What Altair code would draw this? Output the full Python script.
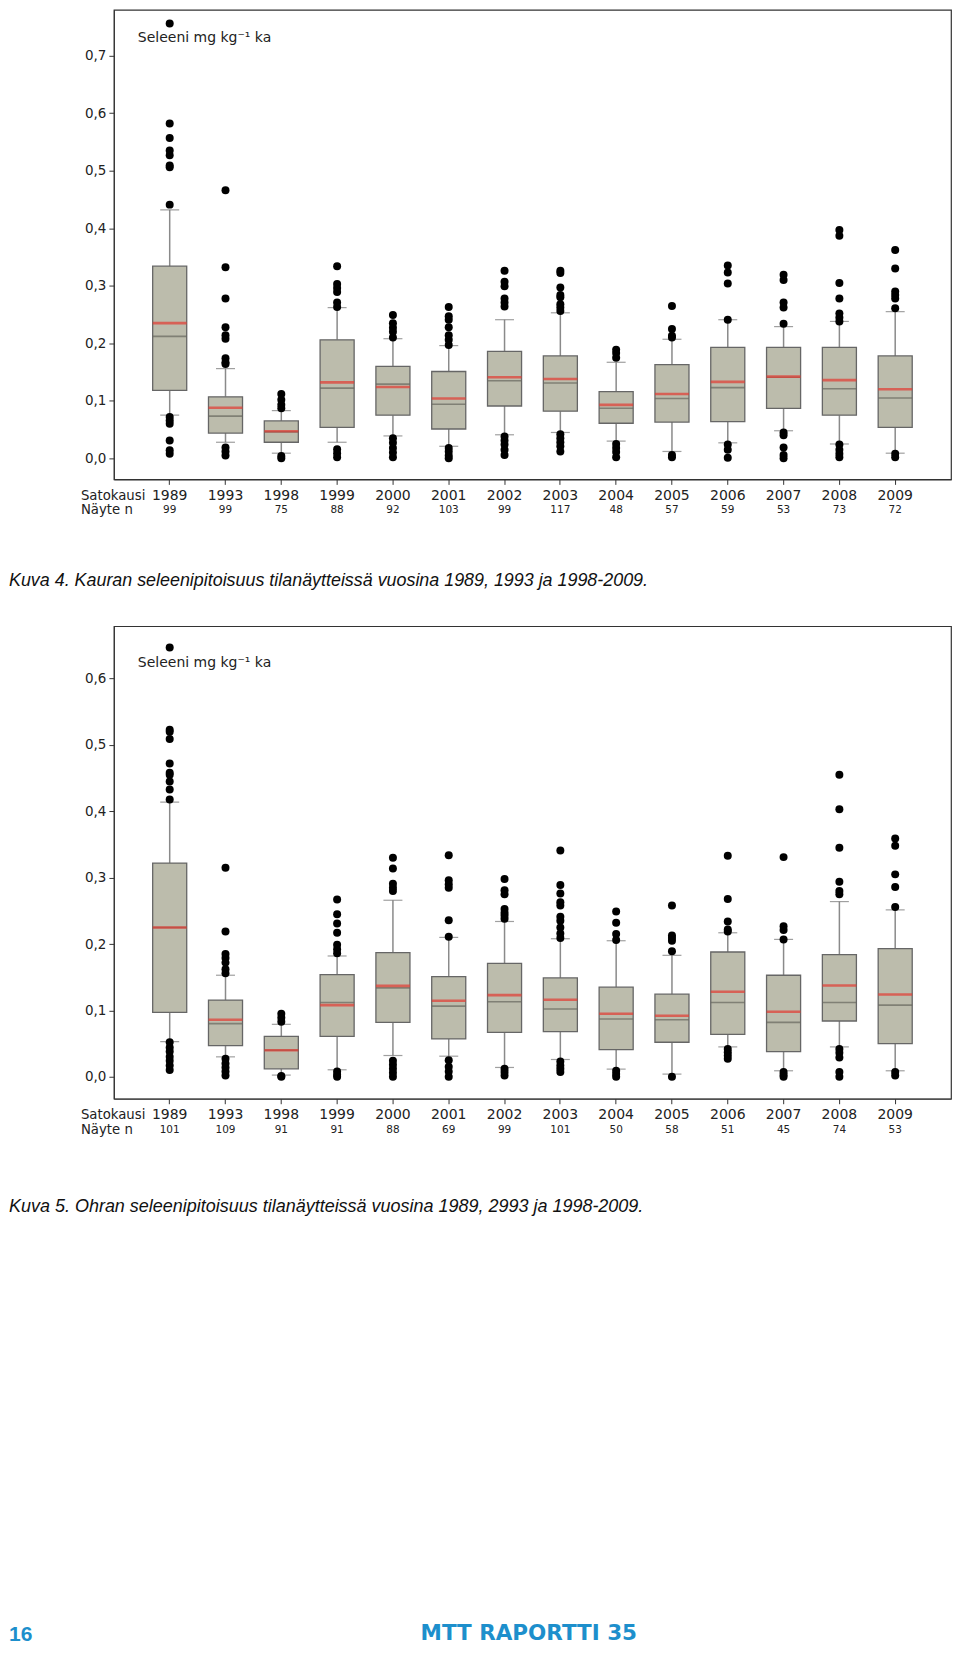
import altair as alt
import pandas as pd

years = ["1989", "1993", "1998", "1999", "2000", "2001", "2002", "2003",
         "2004", "2005", "2006", "2007", "2008", "2009"]

# ---- Kaura (oats), Kuva 4 ----
k_n = [99, 99, 75, 88, 92, 103, 99, 117, 48, 57, 59, 53, 73, 72]
k_q1 = [0.118, 0.044, 0.028, 0.054, 0.075, 0.051, 0.091, 0.082, 0.061, 0.063, 0.064, 0.087, 0.075, 0.054]
k_med = [0.212, 0.0735, 0.046, 0.122, 0.129, 0.094, 0.135, 0.131, 0.087, 0.104, 0.123, 0.141, 0.121, 0.105]
k_q3 = [0.334, 0.107, 0.065, 0.206, 0.160, 0.151, 0.186, 0.178, 0.116, 0.163, 0.193, 0.193, 0.193, 0.178]
k_mean = [0.235, 0.088, 0.047, 0.132, 0.124, 0.104, 0.141, 0.138, 0.093, 0.112, 0.133, 0.142, 0.136, 0.120]
k_wlo = [0.075, 0.028, 0.009, 0.028, 0.039, 0.021, 0.041, 0.045, 0.030, 0.012, 0.027, 0.048, 0.025, 0.009]
k_whi = [0.432, 0.156, 0.083, 0.262, 0.208, 0.196, 0.241, 0.253, 0.167, 0.207, 0.241, 0.229, 0.238, 0.255]
k_out = [
    [0.756, 0.582, 0.557, 0.535, 0.527, 0.509, 0.506, 0.441, 0.072, 0.066, 0.060, 0.031, 0.014, 0.008],
    [0.466, 0.332, 0.278, 0.228, 0.214, 0.208, 0.174, 0.167, 0.164, 0.019, 0.012, 0.005],
    [0.112, 0.102, 0.093, 0.087, 0.004, 0.0],
    [0.334, 0.303, 0.296, 0.289, 0.271, 0.263, 0.016, 0.009, 0.002],
    [0.249, 0.235, 0.227, 0.220, 0.210, 0.035, 0.027, 0.018, 0.010, 0.002],
    [0.263, 0.247, 0.241, 0.228, 0.214, 0.206, 0.197, 0.018, 0.012, 0.005, 0.0],
    [0.326, 0.307, 0.299, 0.278, 0.271, 0.264, 0.038, 0.031, 0.024, 0.015, 0.006],
    [0.326, 0.322, 0.297, 0.284, 0.280, 0.268, 0.262, 0.256, 0.042, 0.035, 0.028, 0.021, 0.012],
    [0.189, 0.183, 0.175, 0.025, 0.018, 0.011, 0.002],
    [0.265, 0.225, 0.213, 0.210, 0.006, 0.002],
    [0.335, 0.323, 0.304, 0.241, 0.024, 0.015, 0.001],
    [0.319, 0.310, 0.271, 0.262, 0.234, 0.045, 0.040, 0.019, 0.006, 0.0],
    [0.397, 0.387, 0.305, 0.278, 0.252, 0.245, 0.238, 0.024, 0.015, 0.008, 0.002],
    [0.362, 0.330, 0.290, 0.284, 0.278, 0.261, 0.008, 0.002],
]

# ---- Ohra (barley), Kuva 5 ----
o_n = [101, 109, 91, 91, 88, 69, 99, 101, 50, 58, 51, 45, 74, 53]
o_q1 = [0.097, 0.047, 0.012, 0.061, 0.082, 0.057, 0.067, 0.068, 0.041, 0.052, 0.064, 0.038, 0.084, 0.050]
o_med = [0.225, 0.080, 0.040, 0.112, 0.134, 0.1065, 0.113, 0.102, 0.087, 0.086, 0.112, 0.082, 0.112, 0.108]
o_q3 = [0.322, 0.1155, 0.061, 0.154, 0.187, 0.151, 0.171, 0.149, 0.135, 0.1245, 0.188, 0.153, 0.184, 0.193]
o_mean = [0.225, 0.086, 0.040, 0.108, 0.137, 0.1145, 0.123, 0.116, 0.095, 0.092, 0.128, 0.098, 0.1375, 0.124]
o_wlo = [0.053, 0.030, 0.0025, 0.0105, 0.032, 0.031, 0.014, 0.026, 0.0115, 0.004, 0.045, 0.009, 0.045, 0.009]
o_whi = [0.414, 0.153, 0.079, 0.182, 0.266, 0.210, 0.234, 0.208, 0.205, 0.183, 0.217, 0.207, 0.264, 0.2515]
o_out = [
    [0.647, 0.523, 0.520, 0.509, 0.472, 0.458, 0.455, 0.445, 0.433, 0.418, 0.052, 0.044, 0.038, 0.030, 0.024, 0.017, 0.010],
    [0.315, 0.219, 0.185, 0.179, 0.172, 0.162, 0.156, 0.027, 0.020, 0.014, 0.008, 0.002],
    [0.095, 0.089, 0.083, 0.001, 0.0],
    [0.267, 0.245, 0.231, 0.217, 0.199, 0.192, 0.186, 0.008, 0.003, 0.0],
    [0.330, 0.314, 0.291, 0.285, 0.280, 0.024, 0.018, 0.012, 0.006, 0.0],
    [0.334, 0.296, 0.290, 0.285, 0.236, 0.211, 0.025, 0.015, 0.008, 0.0],
    [0.298, 0.281, 0.275, 0.253, 0.247, 0.243, 0.238, 0.012, 0.007, 0.002],
    [0.341, 0.289, 0.276, 0.263, 0.258, 0.241, 0.235, 0.225, 0.216, 0.209, 0.023, 0.017, 0.012, 0.007],
    [0.249, 0.232, 0.215, 0.206, 0.009, 0.004, 0.0],
    [0.258, 0.213, 0.209, 0.205, 0.189, 0.0],
    [0.333, 0.268, 0.234, 0.222, 0.219, 0.042, 0.037, 0.032, 0.027],
    [0.331, 0.227, 0.221, 0.207, 0.007, 0.003, 0.0],
    [0.455, 0.403, 0.345, 0.294, 0.280, 0.275, 0.042, 0.036, 0.029, 0.007, 0.0],
    [0.359, 0.348, 0.305, 0.286, 0.256, 0.007, 0.002],
]

y_label = "Seleeni mg kg\u207b\u00b9 ka"
caption4 = "Kuva 4. Kauran seleenipitoisuus tilanäytteissä vuosina 1989, 1993 ja 1998-2009."
caption5 = "Kuva 5. Ohran seleenipitoisuus tilanäytteissä vuosina 1989, 2993 ja 1998-2009."
footer_page = "16"
footer_title = "MTT RAPORTTI 35"

FONT = "DejaVu Sans"
CAP_FONT = "Liberation Sans"
BOX_FILL = "#bcbcac"
BOX_STROKE = "#666666"
WHISK = "#8a8a8a"
RED = "#e23b32"
BLUE = "#1d8fcc"
W = 838
LEFT = -105


def note(text, x, y, size=14, font=FONT, style="normal", weight="normal", color="#222",
         baseline="middle"):
    return alt.Chart(pd.DataFrame({"t": [text]})).mark_text(
        align="left", baseline=baseline, font=font, fontSize=size,
        fontStyle=style, fontWeight=weight, color=color
    ).encode(x=alt.value(x), y=alt.value(y), text="t:N")


def panel(n, q1, med, q3, mean, wlo, whi, out, domain, height, ticks, extras):
    stats = pd.DataFrame({"year": years, "n": [str(v) for v in n], "q1": q1, "med": med,
                          "q3": q3, "mean": mean, "wlo": wlo, "whi": whi})
    outdf = pd.DataFrame([(y, v) for y, vals in zip(years, out) for v in vals],
                         columns=["year", "value"])
    xenc = alt.X("year:N", sort=years,
                 scale=alt.Scale(type="band", paddingInner=0, paddingOuter=0.5),
                 axis=alt.Axis(title=None, labelAngle=0, labelFont=FONT, labelFontSize=14,
                               labelColor="#222", tickSize=5, labelPadding=4,
                               domainColor="#333", tickColor="#333", grid=False))
    yscale = alt.Scale(domain=domain, nice=False, zero=False)
    yaxis = alt.Axis(title=None, values=ticks, grid=False, tickSize=5, labelPadding=3,
                     labelFont=FONT, labelFontSize=13.5, labelColor="#222",
                     domainColor="#333", tickColor="#333",
                     labelExpr="replace(format(datum.value, '.1f'), '.', ',')")

    def Y(f):
        return alt.Y(f, scale=yscale, axis=yaxis)

    base = alt.Chart(stats)
    layers = [
        base.mark_rule(color=WHISK, strokeWidth=1.5).encode(x=xenc, y=Y("wlo:Q"), y2="q1:Q"),
        base.mark_rule(color=WHISK, strokeWidth=1.5).encode(x=xenc, y=Y("q3:Q"), y2="whi:Q"),
        base.mark_tick(size=19, thickness=1.2, color="#777").encode(x=xenc, y=Y("wlo:Q")),
        base.mark_tick(size=19, thickness=1.2, color="#777").encode(x=xenc, y=Y("whi:Q")),
        base.mark_bar(width=alt.RelativeBandSize(0.61), fill=BOX_FILL, stroke=BOX_STROKE,
                      strokeWidth=1.3).encode(x=xenc, y=Y("q1:Q"), y2="q3:Q"),
        base.mark_tick(size=34, thickness=1.6, color="#66665e").encode(x=xenc, y=Y("med:Q")),
        base.mark_tick(size=34, thickness=2.6, color=RED).encode(x=xenc, y=Y("mean:Q")),
        alt.Chart(outdf).mark_point(filled=True, shape="circle", size=64, color="black",
                                    opacity=1, strokeWidth=0).encode(x=xenc, y=Y("value:Q")),
        base.mark_text(font=FONT, fontSize=10.5, color="#222", baseline="middle").encode(
            x=xenc, y=alt.value(height + 31), text="n:N"),
    ]
    return alt.layer(*layers, *extras).properties(width=W, height=height)


top = panel(k_n, k_q1, k_med, k_q3, k_mean, k_wlo, k_whi, k_out,
            [-0.0365, 0.7795], 470, [0, 0.1, 0.2, 0.3, 0.4, 0.5, 0.6, 0.7],
            [note(y_label, 24, 28),
             note("Satokausi", -33, 487, size=13.3),
             note("Näyte n", -33, 501, size=13.3),
             note(caption4, LEFT, 572, size=17.9, font=CAP_FONT, style="italic", color="#111")])

bottom = panel(o_n, o_q1, o_med, o_q3, o_mean, o_wlo, o_whi, o_out,
               [-0.0331, 0.679], 473, [0, 0.1, 0.2, 0.3, 0.4, 0.5, 0.6],
               [note(y_label, 24, 37),
                note("Satokausi", -33, 489, size=13.3),
                note("Näyte n", -33, 504, size=13.3),
                note(caption5, LEFT, 581, size=18, font=CAP_FONT, style="italic", color="#111"),
                note(footer_page, LEFT, 1020, size=21, font=CAP_FONT, weight="bold",
                     color=BLUE, baseline="bottom"),
                note(footer_title, 307, 1020, size=21.5, font=FONT, weight="bold",
                     color=BLUE, baseline="bottom")])

chart = alt.vconcat(top, bottom, spacing=147, bounds="flush", padding=0,
                    background="white").configure_view(stroke="#333", strokeWidth=1.2)

chart.save("out.html", embed_options={"renderer": "svg", "actions": False})
